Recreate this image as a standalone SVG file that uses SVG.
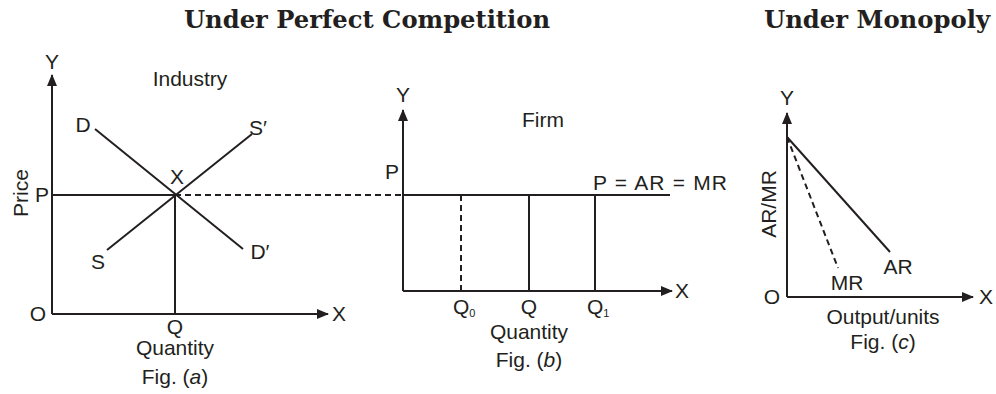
<svg xmlns="http://www.w3.org/2000/svg" width="996" height="394" viewBox="0 0 996 394">
<style>
.ln{stroke:#231f20;stroke-width:2;fill:none}
.ds{stroke:#231f20;stroke-width:2;fill:none;stroke-dasharray:6,4}
.t{font-family:"Liberation Sans",Arial,sans-serif;font-size:21px;fill:#231f20}
.c{text-anchor:middle}
.h{font-family:"DejaVu Serif","Liberation Serif",serif;font-weight:bold;font-size:25px;fill:#231f20;text-anchor:middle}
</style>
<defs>
<marker id="ar" viewBox="0 0 12 10" refX="11" refY="5" markerWidth="12" markerHeight="10" markerUnits="userSpaceOnUse" orient="auto">
<path d="M0,0 L12,5 L0,10 Z" fill="#231f20"/>
</marker>
</defs>
<rect width="996" height="394" fill="#fff"/>
<g id="titles">
<text class="h" x="367" y="28" textLength="366" lengthAdjust="spacingAndGlyphs">Under Perfect Competition</text>
<text class="h" x="877" y="28" textLength="226" lengthAdjust="spacingAndGlyphs">Under Monopoly</text>
</g>
<g id="connectors">
<path class="ln" d="M52,314 L52,75" marker-end="url(#ar)"/>
<path class="ln" d="M52,314 L328,314" marker-end="url(#ar)"/>
<path class="ln" d="M52,195 L175,195"/>
<path class="ln" d="M175,195 L175,314"/>
<path class="ln" d="M95,129 L243,249"/>
<path class="ln" d="M107,250 L252,134"/>
<path class="ds" d="M175,195 L403,195"/>
<path class="ln" d="M403,291 L403,110" marker-end="url(#ar)"/>
<path class="ln" d="M403,291 L672,291" marker-end="url(#ar)"/>
<path class="ln" d="M403,195 L670,195"/>
<path class="ds" d="M461,195 L461,291"/>
<path class="ln" d="M529,195 L529,291"/>
<path class="ln" d="M595,195 L595,291"/>
<path class="ln" d="M787,297 L787,113" marker-end="url(#ar)"/>
<path class="ln" d="M787,297 L973,297" marker-end="url(#ar)"/>
<path class="ln" d="M787,137 L890,252"/>
<path class="ds" d="M787,137 L838,268"/>
</g>
<g id="fig-a">
<text class="t c" x="52" y="69">Y</text>
<text class="t c" x="190" y="86">Industry</text>
<text class="t c" x="83" y="132">D</text>
<text class="t c" x="258" y="135">S′</text>
<text class="t c" x="177" y="184">X</text>
<text class="t c" x="42" y="202">P</text>
<text class="t c" x="98" y="269">S</text>
<text class="t c" x="260" y="259">D′</text>
<text class="t c" x="38" y="321">O</text>
<text class="t c" x="339" y="321">X</text>
<text class="t c" x="175" y="334">Q</text>
<text class="t c" x="175" y="355">Quantity</text>
<text class="t c" x="175" y="384">Fig. (<tspan font-style="italic">a</tspan>)</text>
<text class="t c" transform="translate(28,193) rotate(-90)">Price</text>
</g>
<g id="fig-b">
<text class="t c" x="403" y="102">Y</text>
<text class="t c" x="543" y="127">Firm</text>
<text class="t c" x="392" y="179">P</text>
<text class="t" x="593" y="190" textLength="134" lengthAdjust="spacing">P = AR = MR</text>
<text class="t c" x="682" y="298">X</text>
<text class="t" x="453" y="314">Q<tspan font-size="11" dy="3">0</tspan></text>
<text class="t c" x="529" y="314">Q</text>
<text class="t" x="587" y="314">Q<tspan font-size="11" dy="3">1</tspan></text>
<text class="t c" x="529" y="339">Quantity</text>
<text class="t c" x="529" y="367">Fig. (<tspan font-style="italic">b</tspan>)</text>
</g>
<g id="fig-c">
<text class="t c" x="787" y="105">Y</text>
<text class="t c" transform="translate(776,204) rotate(-90)">AR/MR</text>
<text class="t c" x="898" y="274">AR</text>
<text class="t c" x="847" y="290">MR</text>
<text class="t c" x="772" y="304">O</text>
<text class="t c" x="986" y="304">X</text>
<text class="t c" x="883" y="324">Output/units</text>
<text class="t c" x="883" y="349">Fig. (<tspan font-style="italic">c</tspan>)</text>
</g>
</svg>
